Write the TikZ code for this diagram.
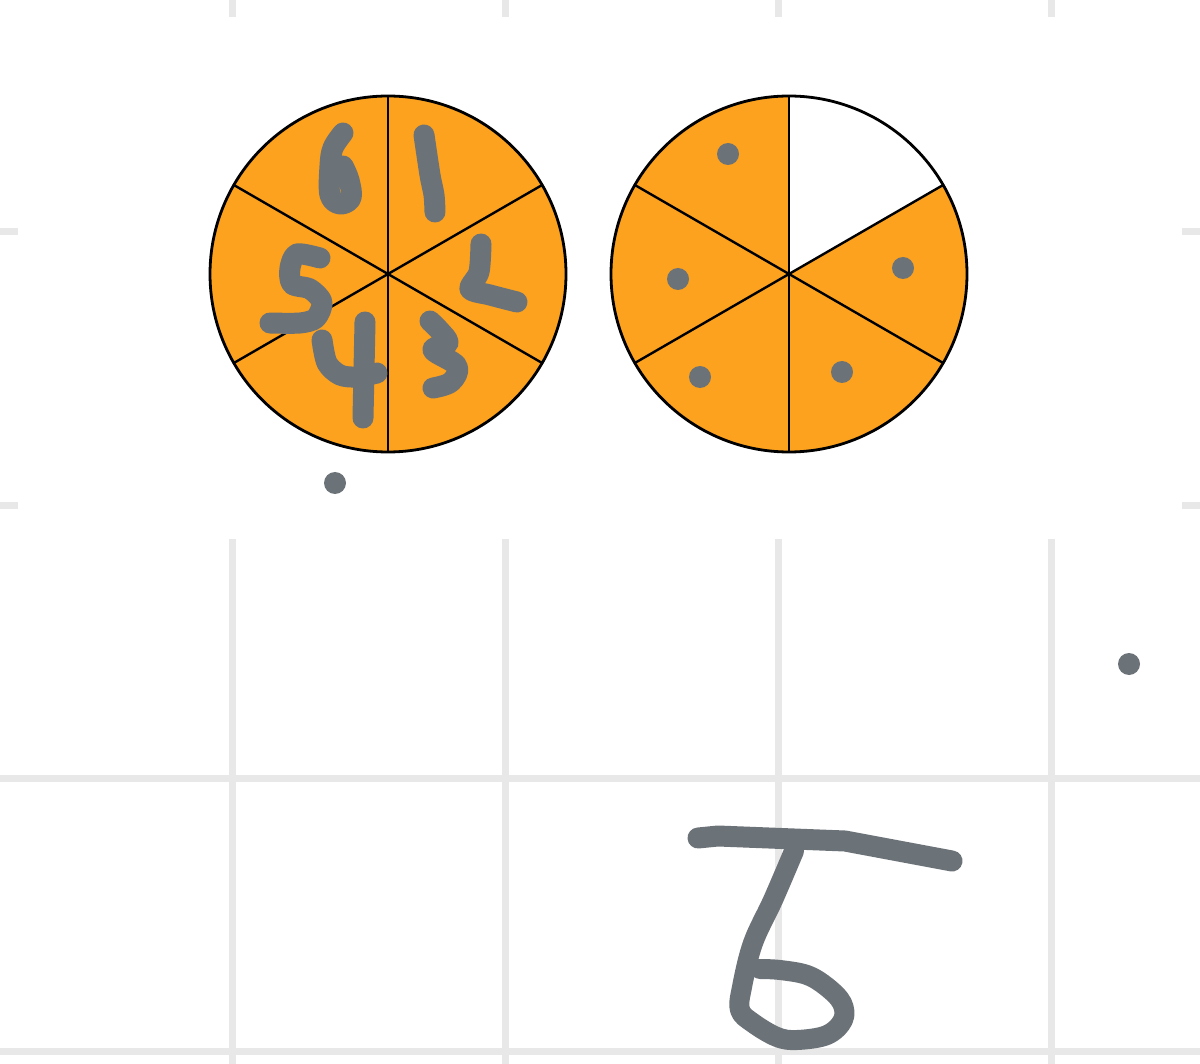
\documentclass[tikz,border=0pt]{standalone}
\definecolor{gridgray}{HTML}{E8E8E8}
\definecolor{pieorange}{HTML}{FCA21F}
\definecolor{pengray}{HTML}{6C7378}
\tikzset{
  gridline/.style={draw=gridgray,line width=7pt},
  pen/.style={draw=pengray,line width=21pt,line cap=round,line join=round},
  rim/.style={draw=black,line width=2.8pt},
  spoke/.style={draw=black,line width=2.4pt},
  dot/.style={fill=pengray}
}
\begin{document}
\begin{tikzpicture}[x=1pt,y=-1pt]
\useasboundingbox (0,0) rectangle (1200,1064);
\fill[white] (0,0) rectangle (1200,1064);
\foreach \g in {232,505,778,1051} {
  \draw[gridline] (\g,0) -- (\g,1064);
  \draw[gridline] (0,\g) -- (1200,\g);
}
\fill[white] (18,17) rectangle (1182,539);

\begin{scope}[shift={(388,274)},y=1pt]
\fill[pieorange] (0,0) circle[radius=178];
\foreach \a in {30,90,150,210,270,330}
  \draw[spoke] (0,0) -- (\a:178);
\draw[rim] (0,0) circle[radius=178];
\end{scope}

\begin{scope}[shift={(789,274)},y=1pt]
\fill[pieorange] (0,0) -- (90:178) arc[start angle=90,end angle=390,radius=178] -- cycle;
\foreach \a in {30,90,150,210,270,330}
  \draw[spoke] (0,0) -- (\a:178);
\draw[rim] (0,0) circle[radius=178];
\end{scope}

\draw[pen] plot[smooth,tension=0.6] coordinates {(343,133) (333,148) (330,166) (330,195) (340,204) (351,198) (349,180) (343,166)};
\draw[pen] plot[smooth] coordinates {(424,135) (430,175) (434,195) (435,212)};
\draw[pen] plot[smooth,tension=0.5] coordinates {(481,244) (479,272) (470,289) (490,295) (517,302)};
\draw[pen] plot[smooth,tension=0.6] coordinates {(430,321) (440,331) (448,343) (433,350) (457,366) (451,382) (433,388)};
\draw[pen] plot[smooth,tension=0.5] coordinates {(322,340) (327,363) (340,375) (357,377) (377,373)};
\draw[pen] (365,322) -- (363,418);
\draw[pen] plot[smooth,tension=0.5] coordinates {(320,258) (297,254) (290,268) (292,284) (310,289) (322,302) (316,318) (300,323) (270,323)};

\draw[pen,line width=21pt] (698,838) -- (718,836) -- (845,841) -- (952,861);
\draw[pen,line width=20pt] plot[smooth,tension=0.6] coordinates {(794,851) (773,900) (753,943) (742,987) (740,1010) (753,1023) (777,1037) (797,1040) (827,1035) (843,1020) (842,1003) (827,987) (807,975) (780,970) (760,969)};

\foreach \p in {(728,154),(678,279),(700,377),(842,372),(903,268),(335,483),(1129,664)}
  \fill[dot] \p circle[radius=11pt];
\end{tikzpicture}
\end{document}
